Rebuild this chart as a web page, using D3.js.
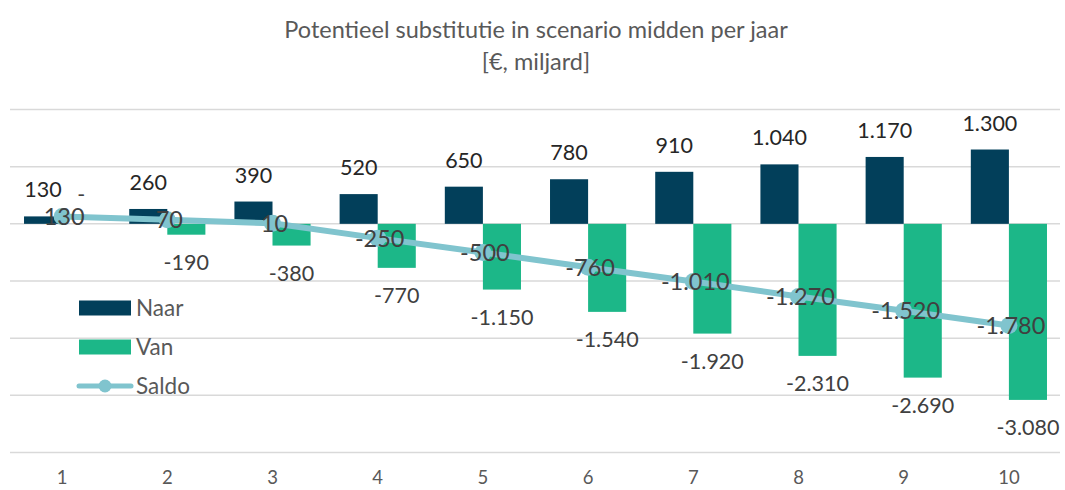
<!DOCTYPE html>
<html>
<head>
<meta charset="utf-8">
<script src="https://cdn.jsdelivr.net/npm/d3@7"></script>
<style>
  body { margin: 0; background: #fff; }
  svg { font-family: Lato, "Open Sans", sans-serif; }
</style>
</head>
<body>
<svg id="chart" width="1065" height="490"></svg>
<script>
const jaren = ["1", "2", "3", "4", "5", "6", "7", "8", "9", "10"];
const naar = [130, 260, 390, 520, 650, 780, 910, 1040, 1170, 1300];
const van = [0, -190, -380, -770, -1150, -1540, -1920, -2310, -2690, -3080];
const saldo = [130, 70, 10, -250, -500, -760, -1010, -1270, -1520, -1780];
const gridTicks = [2000, 1000, 0, -1000, -2000, -3000, -4000];

const COLORS = { naar: "#023f5a", van: "#1cb788", saldo: "#80c4ce", text: "#595959", label: "#404040" };

const svg = d3.select("#chart");

const x = d3.scaleBand()
  .domain(jaren)
  .range([9.5, 1061.5])
  .paddingInner(0.276)
  .paddingOuter(0.138);

const xSub = d3.scaleBand()
  .domain(["naar", "van"])
  .range([0, x.bandwidth()]);

const y = d3.scaleLinear()
  .domain([-4000, 2000])
  .range([452.5, 109.5]);

// Excel nl-NL style: dot as thousands separator, plain hyphen, zero as "-"
const fmt = (v) =>
  v === 0 ? "-" : d3.format(",")(v).replace(/,/g, ".").replace("\u2212", "-");

// title
svg.append("text")
  .attr("x", 536).attr("y", 38)
  .attr("text-anchor", "middle")
  .attr("fill", COLORS.text)
  .attr("font-size", 23.5)
  .text("Potentieel substitutie in scenario midden per jaar");
svg.append("text")
  .attr("x", 536).attr("y", 70)
  .attr("text-anchor", "middle")
  .attr("fill", COLORS.text)
  .attr("font-size", 23.5)
  .text("[€, miljard]");

// gridlines
svg.append("g")
  .selectAll("line")
  .data(gridTicks)
  .join("line")
  .attr("x1", 10).attr("x2", 1060)
  .attr("y1", (d) => y(d)).attr("y2", (d) => y(d))
  .attr("stroke", "#d9d9d9")
  .attr("stroke-width", 1.5);

// x axis labels
const xAxis = svg.append("g")
  .attr("transform", `translate(0, ${y(-4000)})`)
  .call(d3.axisBottom(x).tickSize(0).tickPadding(18));
xAxis.select(".domain").remove();
xAxis.selectAll("text")
  .attr("font-family", "Lato, sans-serif")
  .attr("font-size", 18.5)
  .attr("fill", COLORS.text);

// bars
const groups = svg.append("g")
  .selectAll("g")
  .data(jaren)
  .join("g")
  .attr("transform", (d) => `translate(${x(d)},0)`);

groups.append("rect")
  .attr("x", xSub("naar"))
  .attr("width", xSub.bandwidth())
  .attr("y", (d, i) => y(naar[i]))
  .attr("height", (d, i) => y(0) - y(naar[i]))
  .attr("fill", COLORS.naar);

groups.append("rect")
  .attr("x", xSub("van"))
  .attr("width", xSub.bandwidth())
  .attr("y", y(0))
  .attr("height", (d, i) => y(van[i]) - y(0))
  .attr("fill", COLORS.van);

groups.append("text")
  .attr("x", xSub("naar") + xSub.bandwidth() / 2)
  .attr("y", (d, i) => y(naar[i]) - 19)
  .attr("text-anchor", "middle")
  .attr("font-size", 21.5)
  .attr("fill", "#262626")
  .text((d, i) => fmt(naar[i]));

groups.append("text")
  .attr("x", xSub("van") + xSub.bandwidth() / 2)
  .attr("y", (d, i) => (van[i] === 0 ? y(0) - 22 : y(van[i]) + 35))
  .attr("text-anchor", "middle")
  .attr("font-size", 21.5)
  .attr("fill", COLORS.label)
  .text((d, i) => fmt(van[i]));

// saldo line
const cx = (d) => x(d) + x.bandwidth() / 2;
const line = d3.line()
  .x((d, i) => cx(jaren[i]))
  .y((d) => y(d));

svg.append("path")
  .datum(saldo)
  .attr("d", line)
  .attr("fill", "none")
  .attr("stroke", COLORS.saldo)
  .attr("stroke-width", 6)
  .attr("stroke-linecap", "round");

svg.append("g")
  .selectAll("circle")
  .data(saldo)
  .join("circle")
  .attr("cx", (d, i) => cx(jaren[i]))
  .attr("cy", (d) => y(d))
  .attr("r", 8.5)
  .attr("fill", COLORS.saldo);

svg.append("g")
  .selectAll("text")
  .data(saldo)
  .join("text")
  .attr("x", (d, i) => cx(jaren[i]) + 2)
  .attr("y", (d) => y(d))
  .attr("dy", "0.36em")
  .attr("text-anchor", "middle")
  .attr("font-size", 23.5)
  .attr("fill", COLORS.label)
  .text((d) => fmt(d));

// legend
const legend = svg.append("g").attr("transform", "translate(79, 0)");
const legendItems = [
  { name: "Naar", color: COLORS.naar, type: "rect", y: 308 },
  { name: "Van", color: COLORS.van, type: "rect", y: 347 },
  { name: "Saldo", color: COLORS.saldo, type: "line", y: 386 },
];
legendItems.forEach((it) => {
  if (it.type === "rect") {
    legend.append("rect")
      .attr("x", 0).attr("y", it.y - 7.5)
      .attr("width", 52).attr("height", 15)
      .attr("fill", it.color);
  } else {
    legend.append("line")
      .attr("x1", 0).attr("x2", 52)
      .attr("y1", it.y).attr("y2", it.y)
      .attr("stroke", it.color)
      .attr("stroke-width", 5)
      .attr("stroke-linecap", "round");
    legend.append("circle")
      .attr("cx", 26).attr("cy", it.y).attr("r", 6.5)
      .attr("fill", it.color);
  }
  legend.append("text")
    .attr("x", 57).attr("y", it.y)
    .attr("dy", "0.36em")
    .attr("font-size", 22.5)
    .attr("fill", COLORS.text)
    .text(it.name);
});
</script>
</body>
</html>
